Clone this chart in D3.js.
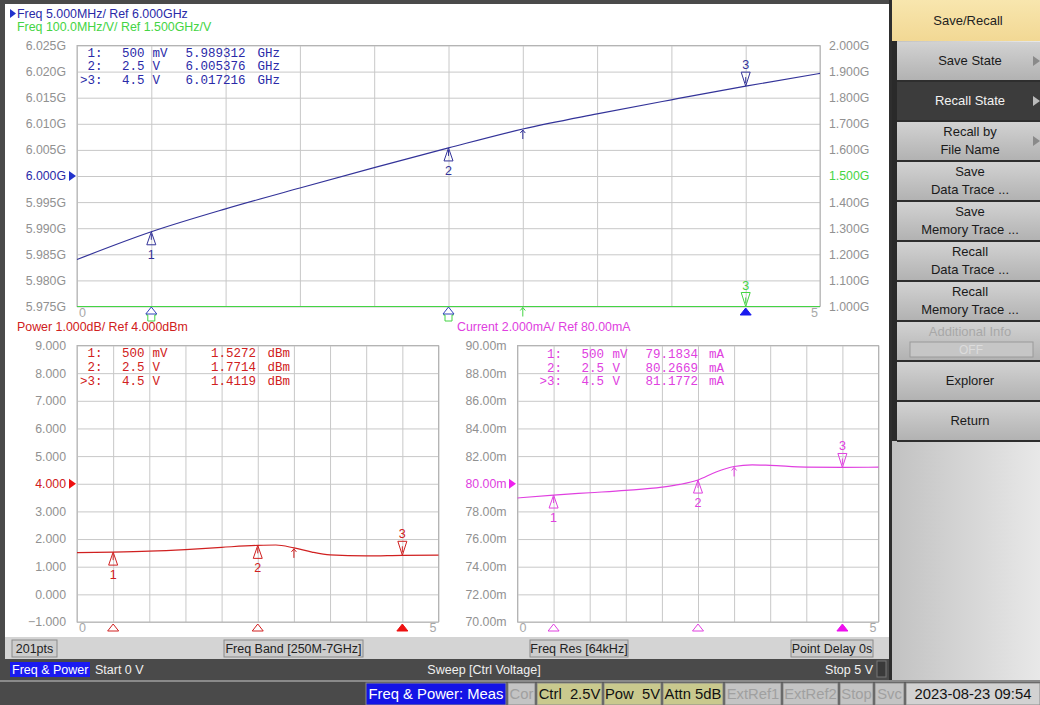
<!DOCTYPE html>
<html>
<head>
<meta charset="utf-8">
<script src="https://cdn.jsdelivr.net/npm/d3@7"></script>
<style>
body { margin: 0; background: #4a4a4a; }
svg { display: block; font-family: "Liberation Sans", Arial, sans-serif; }
.grid line { stroke: #c8c8c8; }
.grid path { display: none; }
.lab path, .lab line { display: none; }
.lab text { fill: #919191; font-size: 12.3px; font-family: "Liberation Sans", Arial, sans-serif; }
.mono { font-family: "Liberation Mono", "DejaVu Sans Mono", monospace; font-size: 12.5px; }
</style>
</head>
<body>
<div id="chart"></div>
<script>
// ---- data ----
var freqVolts = [0, 0.5, 1, 1.5, 2, 2.5, 3, 3.5, 4, 4.5, 5];
var freqGHz   = [5.9840, 5.98931, 5.99370, 5.99770, 6.00160, 6.00538, 6.00900, 6.01190, 6.01460, 6.01722, 6.01965];
// tuning sensitivity (GHz/V), far below the 1.000G bottom of its scale
var sensGHzV  = [0.0106, 0.0096, 0.0086, 0.0080, 0.0078, 0.0075, 0.0068, 0.0060, 0.0054, 0.0052, 0.0049];

var powVolts = [0, 0.5, 1, 1.5, 2, 2.5, 2.75, 3, 3.25, 3.5, 4, 4.5, 5];
var powDbm   = [1.51, 1.527, 1.56, 1.62, 1.70, 1.771, 1.785, 1.68, 1.53, 1.43, 1.39, 1.412, 1.42];

var curVolts = [0, 0.5, 1, 1.5, 2, 2.25, 2.5, 2.75, 3, 3.25, 3.5, 4, 4.5, 5];
var curMa    = [78.97, 79.18, 79.35, 79.52, 79.75, 79.95, 80.27, 80.85, 81.25, 81.37, 81.33, 81.20, 81.18, 81.20];

var markerVolts = [0.5, 2.5, 4.5];
var markerStim  = ["500", "2.5", "4.5"];
var markerUnit  = ["mV", "V", "V"];
var markerFreq  = [5.989312, 6.005376, 6.017216];
var markerPow   = [1.5272, 1.7714, 1.4119];
var markerCur   = [79.1834, 80.2669, 81.1772];
var refVolt = 3;   // the small arrow marker

var blue = "#333399", blueTxt = "#2a2aa8", green = "#44d444", red = "#d02020", mag = "#e040e0";

var svg = d3.select("#chart").append("svg").attr("width", 1040).attr("height", 705);
var defs = svg.append("defs");
var g1 = defs.append("linearGradient").attr("id", "side");
g1.append("stop").attr("offset", 0).attr("stop-color", "#c2c2c2");
g1.append("stop").attr("offset", 1).attr("stop-color", "#e8e8e8");
var g2 = defs.append("linearGradient").attr("id", "btn").attr("x2", 0).attr("y2", 1);
g2.append("stop").attr("offset", 0).attr("stop-color", "#d2d2d2");
g2.append("stop").attr("offset", 1).attr("stop-color", "#b2b2b2");
var g3 = defs.append("linearGradient").attr("id", "hdr").attr("x2", 0).attr("y2", 1);
g3.append("stop").attr("offset", 0).attr("stop-color", "#f8e6ae");
g3.append("stop").attr("offset", 1).attr("stop-color", "#f2d894");

// frame
svg.append("rect").attr("width", 1040).attr("height", 705).attr("fill", "#4a4a4a");
svg.append("rect").attr("x", 892).attr("y", 0).attr("width", 148).attr("height", 681).attr("fill", "url(#side)");
svg.append("rect").attr("x", 5).attr("y", 4).attr("width", 884).attr("height", 633).attr("fill", "#fff");
svg.append("rect").attr("x", 5).attr("y", 637).attr("width", 884).attr("height", 22).attr("fill", "#d4d4d4");
svg.append("rect").attr("x", 889).attr("y", 0).attr("width", 3).attr("height", 681).attr("fill", "#2e2e2e");
svg.append("rect").attr("x", 0).attr("y", 680).attr("width", 1040).attr("height", 2).attr("fill", "#8a8a8a");

// ---- scales ----
var x1 = d3.scaleLinear().domain([0, 5]).range([77, 820]);
var y1 = d3.scaleLinear().domain([5.975, 6.025]).range([306.5, 45.5]);
var y1r = d3.scaleLinear().domain([1.0, 2.0]).range([306.5, 45.5]).clamp(true);
var x2 = d3.scaleLinear().domain([0, 5]).range([77, 438.5]);
var y2 = d3.scaleLinear().domain([-1, 9]).range([622, 345.5]);
var x3 = d3.scaleLinear().domain([0, 5]).range([517.5, 878.5]);
var y3 = d3.scaleLinear().domain([70, 90]).range([622, 345.5]);

function grid(x, y) {
  var h = y.range()[0] - y.range()[1], w = x.range()[1] - x.range()[0];
  svg.append("g").attr("class", "grid").attr("transform", "translate(0," + y.range()[0] + ")")
    .call(d3.axisBottom(x).ticks(10).tickSize(-h).tickFormat(""));
  svg.append("g").attr("class", "grid").attr("transform", "translate(" + x.range()[0] + ",0)")
    .call(d3.axisLeft(y).ticks(10).tickSize(-w).tickFormat(""));
  svg.append("rect").attr("x", x.range()[0]).attr("y", y.range()[1]).attr("width", w).attr("height", h)
    .attr("fill", "none").attr("stroke", "#b4b4b4");
  svg.append("text").attr("x", x.range()[0] + 2).attr("y", y.range()[0] + 10).attr("fill", "#a8a8a8")
    .attr("font-size", 12.5).text("0");
  svg.append("text").attr("x", x.range()[1] - 2).attr("y", y.range()[0] + 10).attr("fill", "#a8a8a8")
    .attr("font-size", 12.5).attr("text-anchor", "end").text("5");
}

function labels(axis, xpos, ref, col, fmt) {
  var a = svg.append("g").attr("class", "lab").attr("transform", "translate(" + xpos + ",0)")
    .call(axis.ticks(10).tickSize(0).tickPadding(11).tickFormat(fmt));
  if (ref != null) {
    a.selectAll(".tick").filter(function(d) { return Math.abs(d - ref) < 1e-9; })
      .select("text").style("fill", col);
  }
  return a;
}

function refArrow(xp, yp, col) {
  svg.append("path").attr("d", "M" + (xp - 4) + "," + (yp - 5) + "L" + (xp + 3) + "," + yp + "L" + (xp - 4) + "," + (yp + 5) + "Z")
    .attr("fill", col);
}

grid(x1, y1); grid(x2, y2); grid(x3, y3);

labels(d3.axisLeft(y1), 77, 6.0, blueTxt, function(d) { return d3.format(".3f")(d) + "G"; });
labels(d3.axisRight(y1r), 820, 1.5, green, function(d) { return d3.format(".3f")(d) + "G"; }).selectAll("text").attr("x", 9);
labels(d3.axisLeft(y2), 77, 4, red, d3.format(".3f"));
labels(d3.axisLeft(y3), 517.5, 80, mag, function(d) { return d3.format(".2f")(d) + "m"; });
refArrow(73, y1(6.0), "#2233cc");
refArrow(73, y2(4), "#ee1111");
refArrow(513, y3(80), "#ee22ee");

// ---- header texts ----
svg.append("path").attr("d", "M10,9L16,13.5L10,18Z").attr("fill", "#2233cc");
svg.append("text").attr("x", 17).attr("y", 18).attr("fill", blueTxt).attr("font-size", 12.4).text("Freq 5.000MHz/ Ref 6.000GHz");
svg.append("text").attr("x", 17).attr("y", 31).attr("fill", green).attr("font-size", 12.4).text("Freq 100.0MHz/V/ Ref 1.500GHz/V");
svg.append("text").attr("x", 17).attr("y", 331).attr("fill", red).attr("font-size", 12.4).text("Power 1.000dB/ Ref 4.000dBm");
svg.append("text").attr("x", 457).attr("y", 331).attr("fill", mag).attr("font-size", 12.4).text("Current 2.000mA/ Ref 80.00mA");

// ---- traces ----
function trace(xs, ys, vx, vy, col) {
  var pts = vx.map(function(v, i) { return [v, vy[i]]; });
  svg.append("path").datum(pts).attr("fill", "none").attr("stroke", col).attr("stroke-width", 1.2)
    .attr("d", d3.line().x(function(d) { return xs(d[0]); }).y(function(d) { return ys(d[1]); }).curve(d3.curveMonotoneX));
}
trace(x1, y1r, freqVolts, sensGHzV, green);
trace(x1, y1, freqVolts, freqGHz, blue);
trace(x2, y2, powVolts, powDbm, red);
trace(x3, y3, curVolts, curMa, mag);

// ---- markers ----
function marker(xp, yp, n, active, col) {
  if (!active) {
    svg.append("path").attr("d", "M" + xp + "," + yp + "L" + (xp - 4.5) + "," + (yp + 13) + "L" + (xp + 4.5) + "," + (yp + 13) + "Z M" + xp + "," + (yp + 2) + "V" + (yp + 8))
      .attr("fill", "none").attr("stroke", col);
    svg.append("text").attr("x", xp).attr("y", yp + 27).attr("text-anchor", "middle").attr("fill", col)
      .attr("font-size", 12.5).text(n);
  } else {
    svg.append("path").attr("d", "M" + xp + "," + yp + "L" + (xp - 4.5) + "," + (yp - 14) + "L" + (xp + 4.5) + "," + (yp - 14) + "Z M" + xp + "," + (yp - 3) + "V" + (yp - 9))
      .attr("fill", "none").attr("stroke", col);
    svg.append("text").attr("x", xp).attr("y", yp - 17).attr("text-anchor", "middle").attr("fill", col)
      .attr("font-size", 12.5).text(n);
  }
}
function smallArrow(xp, yp, col) {
  svg.append("path").attr("d", "M" + xp + "," + (yp + 1) + "V" + (yp + 10) + "M" + (xp - 2.5) + "," + (yp + 4) + "L" + xp + "," + (yp + 1) + "L" + (xp + 2.5) + "," + (yp + 4))
    .attr("fill", "none").attr("stroke", col);
}
function baseTri(xp, yp, filled, col) {
  svg.append("path").attr("d", "M" + xp + "," + yp + "L" + (xp - 5.5) + "," + (yp + 7) + "L" + (xp + 5.5) + "," + (yp + 7) + "Z")
    .attr("fill", filled ? col : "#fff").attr("stroke", col);
}
function house(xp, yp, col) {
  svg.append("path").attr("d", "M" + xp + "," + yp + "L" + (xp - 5) + "," + (yp + 6) + "H" + (xp - 3.5) + "V" + (yp + 12) + "H" + (xp + 3.5) + "V" + (yp + 6) + "H" + (xp + 5) + "Z")
    .attr("fill", "#fff").attr("stroke", col);
}

markerVolts.forEach(function(v, i) {
  var act = i === 2;
  marker(x1(v), y1(markerFreq[i]), i + 1, act, blue);
  marker(x2(v), y2(markerPow[i]), i + 1, act, red);
  marker(x3(v), y3(markerCur[i]), i + 1, act, mag);
  if (act) {
    marker(x1(v), y1r(sensGHzV[freqVolts.indexOf(v)]), 3, true, green);
    baseTri(x1(v), 308, true, "#1a1aee");
  } else {
    house(x1(v), 309, green);
    baseTri(x1(v), 307, false, "#3344bb");
  }
  baseTri(x2(v), 624, act, act ? "#ee1111" : red);
  baseTri(x3(v), 624, act, act ? "#ee11ee" : mag);
});
smallArrow(x1(refVolt), y1(freqGHz[freqVolts.indexOf(refVolt)]), blue);
smallArrow(x1(refVolt), y1r(sensGHzV[freqVolts.indexOf(refVolt)]), green);
smallArrow(x2(refVolt), y2(powDbm[powVolts.indexOf(refVolt)]), red);
smallArrow(x3(refVolt), y3(curMa[curVolts.indexOf(refVolt)]), mag);

// ---- marker tables ----
function table(cols, values, fmt, unit, col, rows) {
  markerVolts.forEach(function(v, i) {
    var yy = rows[i], t = svg.append("g").attr("class", "mono").attr("fill", col);
    if (i === 2) t.append("text").attr("x", cols[0] - 7.4).attr("y", yy).text(">");
    t.append("text").attr("x", cols[0]).attr("y", yy).text((i + 1) + ":");
    t.append("text").attr("x", cols[1]).attr("y", yy).attr("text-anchor", "end").text(markerStim[i]);
    t.append("text").attr("x", cols[2]).attr("y", yy).text(markerUnit[i]);
    t.append("text").attr("x", cols[3]).attr("y", yy).text(fmt(values[i]));
    t.append("text").attr("x", cols[4]).attr("y", yy).text(unit);
  });
}
table([87.5, 144.5, 152.5, 185.5, 257.5], markerFreq, d3.format(".6f"), "GHz", blueTxt, [57, 70, 83.5]);
table([87.5, 144.5, 152.5, 211, 267.5], markerPow, d3.format(".4f"), "dBm", red, [357, 371, 384.5]);
table([547, 604, 612.5, 645.5, 709], markerCur, d3.format(".4f"), "mA", mag, [357.5, 371.5, 385]);

// ---- bottom bars ----
function box(x0, x1b, y0, y1b, bg, fg, txt, size) {
  svg.append("rect").attr("x", x0).attr("y", y0).attr("width", x1b - x0).attr("height", y1b - y0)
    .attr("fill", bg).attr("stroke", "#8a8a8a");
  svg.append("text").attr("x", (x0 + x1b) / 2).attr("y", (y0 + y1b) / 2 + size * 0.36)
    .attr("text-anchor", "middle").attr("fill", fg).attr("font-size", size).style("white-space", "pre").text(txt);
}
box(12, 57, 640, 657, "#cdcdcd", "#222", "201pts", 12.5);
box(224, 363, 640, 657, "#cdcdcd", "#222", "Freq Band [250M-7GHz]", 12.5);
box(530, 628, 640, 657, "#cdcdcd", "#222", "Freq Res [64kHz]", 12.5);
box(791, 873, 640, 657, "#cdcdcd", "#222", "Point Delay 0s", 12.5);

svg.append("rect").attr("x", 10).attr("y", 662).attr("width", 80).attr("height", 15).attr("fill", "#1a1af0");
svg.append("text").attr("x", 12).attr("y", 674).attr("fill", "#fff").attr("font-size", 12.5).text("Freq & Power");
svg.append("text").attr("x", 95).attr("y", 674).attr("fill", "#f0f0f0").attr("font-size", 12.5).text("Start 0 V");
svg.append("text").attr("x", 484).attr("y", 674).attr("fill", "#f0f0f0").attr("font-size", 12.5).attr("text-anchor", "middle").text("Sweep [Ctrl Voltage]");
svg.append("text").attr("x", 873).attr("y", 674).attr("fill", "#f0f0f0").attr("font-size", 12.5).attr("text-anchor", "end").text("Stop 5 V");
svg.append("rect").attr("x", 877).attr("y", 661).attr("width", 9).attr("height", 16).attr("fill", "#3a3a3a").attr("stroke", "#777");

var statusItems = [
  [366, 506, "#1414e6", "#fff", "Freq & Power: Meas"],
  [508, 535, "#c4c4c4", "#a0a0a0", "Cor"],
  [537, 602, "#c9c98e", "#111", "Ctrl  2.5V"],
  [604, 661, "#c9c98e", "#111", "Pow  5V"],
  [663, 723, "#c9c98e", "#111", "Attn 5dB"],
  [725, 781, "#c4c4c4", "#a0a0a0", "ExtRef1"],
  [783, 838, "#c4c4c4", "#a0a0a0", "ExtRef2"],
  [840, 873, "#c4c4c4", "#a0a0a0", "Stop"],
  [875, 904, "#c4c4c4", "#a0a0a0", "Svc"],
  [906, 1040, "#d2d2d2", "#111", "2023-08-23 09:54"]
];
statusItems.forEach(function(s) {
  box(s[0], s[1], 683, 705, s[2], s[3], s[4], 14.8);
});

// ---- softkeys ----
svg.append("rect").attr("x", 892).attr("y", 0).attr("width", 148).attr("height", 41).attr("fill", "url(#hdr)");
svg.append("text").attr("x", 968).attr("y", 25).attr("text-anchor", "middle").attr("fill", "#222").attr("font-size", 13).text("Save/Recall");
svg.append("rect").attr("x", 892).attr("y", 41).attr("width", 5).attr("height", 400).attr("fill", "#2a2a2a");
var keys = [
  ["Save State"], ["Recall State"], ["Recall by", "File Name"], ["Save", "Data Trace ..."],
  ["Save", "Memory Trace ..."], ["Recall", "Data Trace ..."], ["Recall", "Memory Trace ..."],
  ["Additional Info"], ["Explorer"], ["Return"]
];
keys.forEach(function(k, i) {
  var y0 = 41 + i * 40, dark = i === 1, dis = i === 7;
  svg.append("rect").attr("x", 897).attr("y", y0 + 1).attr("width", 143).attr("height", 38)
    .attr("fill", dark ? "#3c3c3c" : "url(#btn)");
  svg.append("rect").attr("x", 897).attr("y", y0 + 39).attr("width", 143).attr("height", 2).attr("fill", "#2e2e2e");
  var col = dark ? "#f2f2f2" : (dis ? "#a8a8a8" : "#1a1a1a");
  if (k.length === 1 && !dis) {
    svg.append("text").attr("x", 970).attr("y", y0 + 24).attr("text-anchor", "middle").attr("fill", col).attr("font-size", 13).text(k[0]);
  } else {
    svg.append("text").attr("x", 970).attr("y", y0 + 15).attr("text-anchor", "middle").attr("fill", col).attr("font-size", 13).text(k[0]);
    if (k[1]) svg.append("text").attr("x", 970).attr("y", y0 + 33).attr("text-anchor", "middle").attr("fill", col).attr("font-size", 13).text(k[1]);
  }
  if (i < 3) {
    svg.append("path").attr("d", "M1033," + (y0 + 15) + "L1040," + (y0 + 20) + "L1033," + (y0 + 25) + "Z")
      .attr("fill", dark ? "#bbb" : "#8a8a8a");
  }
  if (dis) {
    svg.append("rect").attr("x", 910).attr("y", y0 + 21).attr("width", 123).attr("height", 15)
      .attr("fill", "#c6c6c6").attr("stroke", "#9a9a9a");
    svg.append("text").attr("x", 971).attr("y", y0 + 33).attr("text-anchor", "middle").attr("fill", "#dcdcdc").attr("font-size", 12).text("OFF");
  }
});
</script>
</body>
</html>
